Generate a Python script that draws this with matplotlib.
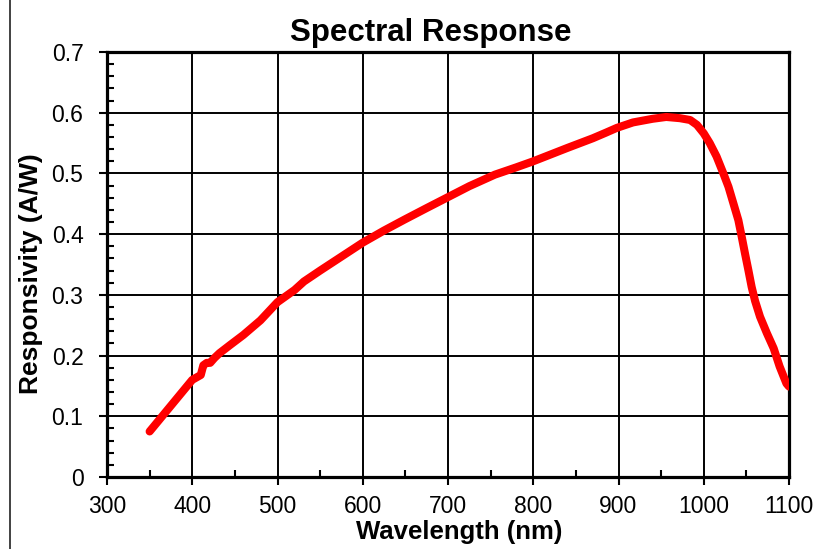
import matplotlib
matplotlib.use("Agg")
import matplotlib.pyplot as plt
from matplotlib.patches import Rectangle
from matplotlib.ticker import MultipleLocator

plt.rcParams['font.family'] = ['Liberation Sans', 'DejaVu Sans']

wavelength = [350, 360, 370, 380, 390, 400, 405, 410, 413, 417, 421, 426, 432,
              444, 460, 480, 492, 500, 520, 531, 550, 575, 600, 625, 649, 675,
              700, 725, 755, 780, 800, 840, 855, 870, 885, 898, 917, 940, 956,
              972, 984, 992, 1000, 1007, 1015, 1023, 1029, 1034.7, 1040.6,
              1044.5, 1048.4, 1052.3, 1056.2, 1060.2, 1066, 1074, 1082, 1089,
              1097, 1100]
responsivity = [0.075, 0.092, 0.109, 0.126, 0.143, 0.160, 0.164, 0.168, 0.184,
                0.188, 0.188, 0.196, 0.204, 0.217, 0.234, 0.258, 0.276, 0.288,
                0.308, 0.322, 0.340, 0.363, 0.386, 0.406, 0.424, 0.443, 0.461,
                0.479, 0.498, 0.510, 0.520, 0.542, 0.550, 0.558, 0.567, 0.575,
                0.584, 0.590, 0.593, 0.591, 0.588, 0.580, 0.566, 0.550, 0.528,
                0.500, 0.478, 0.451, 0.423, 0.396, 0.368, 0.341, 0.313, 0.290,
                0.264, 0.237, 0.212, 0.182, 0.154, 0.149]

x_ticks = [300, 400, 500, 600, 700, 800, 900, 1000, 1100]
y_ticks = [0, 0.1, 0.2, 0.3, 0.4, 0.5, 0.6, 0.7]
y_tick_labels = ["0", "0.1", "0.2", "0.3", "0.4", "0.5", "0.6", "0.7"]

W, H = 819, 549
fig = plt.figure(figsize=(W / 100, H / 100), dpi=100)
ax = fig.add_axes([107 / W, 1 - 477 / H, (789 - 107) / W, (477 - 52) / H])

ax.plot(wavelength, responsivity, color='#ff0000', lw=5.8,
        solid_capstyle='round', solid_joinstyle='round', zorder=3)

ax.set_xlim(300, 1100)
ax.set_ylim(0, 0.7)
ax.set_xticks(x_ticks)
ax.set_xticklabels([str(v) for v in x_ticks])
ax.set_yticks(y_ticks)
ax.set_yticklabels(y_tick_labels)
ax.xaxis.set_minor_locator(MultipleLocator(50))
ax.yaxis.set_minor_locator(MultipleLocator(0.02))

ax.grid(True, which='major', color='black', lw=1.4, zorder=1)
for s in ax.spines.values():
    s.set_linewidth(2.3)
    s.set_color('black')

ax.tick_params(axis='both', which='major', direction='out', length=6, width=1.5,
               labelsize=16.5, colors='black')
ax.tick_params(axis='x', which='major', pad=7)
ax.tick_params(axis='y', which='major', pad=11)
ax.tick_params(axis='both', which='minor', direction='in', length=5, width=1.5)

fig.text(431 / W, 1 - 33 / H, "Spectral Response", ha='center', va='center',
         fontsize=22.5, fontweight='bold')
fig.text(459.5 / W, 1 - 532 / H, "Wavelength (nm)", ha='center', va='center',
         fontsize=18.5, fontweight='bold')
fig.text(31 / W, 1 - 274 / H, "Responsivity (A/W)", ha='center', va='center',
         fontsize=19, fontweight='bold', rotation=90)

fig.patches.append(Rectangle((10 / W, -0.2), 1.2, 1.2 + (1 - 10 / H),
                             transform=fig.transFigure, fill=False,
                             edgecolor='#333333', lw=1.3))

fig.savefig("out.png", dpi=100)
